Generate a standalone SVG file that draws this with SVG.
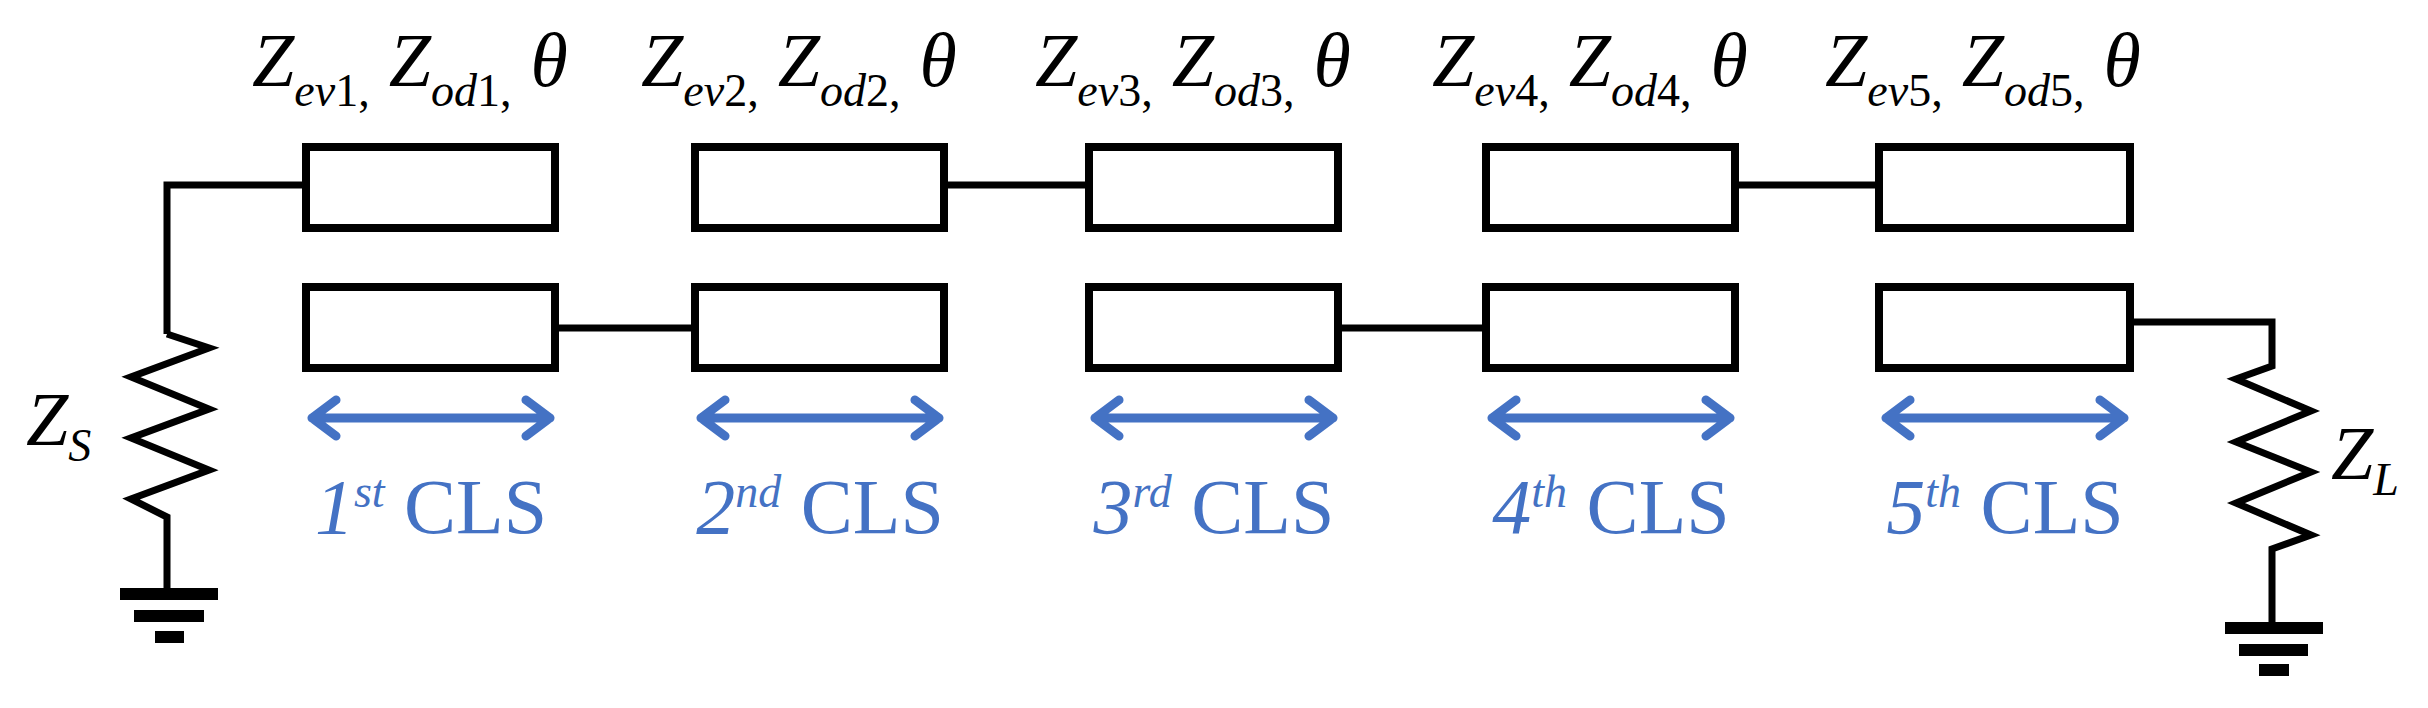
<svg xmlns="http://www.w3.org/2000/svg" width="2428" height="708" viewBox="0 0 2428 708">
<style>
.box{fill:#fff;stroke:#000;stroke-width:8}
.w{fill:none;stroke:#000;stroke-width:7;stroke-linejoin:miter}
.gnd{stroke:#000;stroke-width:12}
.arr{fill:none;stroke:#4472C4;stroke-width:9;stroke-linecap:round;stroke-linejoin:round}
.lab{font-family:"Liberation Serif",serif;font-size:76px;font-style:italic;fill:#000}
.sub{font-size:46px}
.up{font-style:normal}
.cls{font-family:"Liberation Serif",serif;font-size:78px;fill:#4472C4;text-anchor:middle}
.it{font-style:italic}
.sup{font-size:46px;font-style:italic}
</style>
<g id="connectors">
<polyline class="w" points="306,185 167,185 167,334"/>
<polyline class="w" points="167,334 209,348 131,377 209,409 131,438 209,470 131,499 167,517 167,594"/>
<line class="w" x1="945" y1="185" x2="1089" y2="185"/>
<line class="w" x1="1738" y1="185" x2="1880" y2="185"/>
<line class="w" x1="555" y1="328" x2="696" y2="328"/>
<line class="w" x1="1340" y1="328" x2="1486" y2="328"/>
<polyline class="w" points="2130,322 2272,322 2272,366 2236,379 2311,411 2236,442 2311,472 2236,503 2311,535 2272,549 2272,628"/>
</g>
<g id="gnd-s"><line class="gnd" x1="120" y1="594" x2="218" y2="594"/><line class="gnd" x1="134" y1="616" x2="204" y2="616"/><line class="gnd" x1="155" y1="637" x2="184" y2="637"/></g>
<g id="gnd-l"><line class="gnd" x1="2225" y1="628" x2="2323" y2="628"/><line class="gnd" x1="2239" y1="650" x2="2308" y2="650"/><line class="gnd" x1="2259" y1="670" x2="2289" y2="670"/></g>
<g id="zs"><text class="lab" x="26" y="445">Z<tspan class="sub" dy="16">S</tspan></text></g>
<g id="zl"><text class="lab" x="2331" y="479">Z<tspan class="sub" dy="16">L</tspan></text></g>
<g id="cls1"><rect class="box" x="306" y="147" width="249" height="81"/><rect class="box" x="306" y="287" width="249" height="81"/>
<text class="lab" x="252" y="86">Z<tspan class="sub" dy="20">ev<tspan class="up">1,</tspan></tspan><tspan dy="-20"> Z</tspan><tspan class="sub" dy="20">od<tspan class="up">1,</tspan></tspan><tspan dy="-20"> θ</tspan></text>
<path class="arr" d="M312,418H550M336,400L312,418L336,436M526,400L550,418L526,436"/>
<text class="cls" x="431" y="533"><tspan class="it">1</tspan><tspan class="sup" dy="-26">st</tspan><tspan dy="26"> CLS</tspan></text></g>
<g id="cls2"><rect class="box" x="695" y="147" width="249" height="81"/><rect class="box" x="695" y="287" width="249" height="81"/>
<text class="lab" x="641" y="86">Z<tspan class="sub" dy="20">ev<tspan class="up">2,</tspan></tspan><tspan dy="-20"> Z</tspan><tspan class="sub" dy="20">od<tspan class="up">2,</tspan></tspan><tspan dy="-20"> θ</tspan></text>
<path class="arr" d="M701,418H939M725,400L701,418L725,436M915,400L939,418L915,436"/>
<text class="cls" x="820" y="533"><tspan class="it">2</tspan><tspan class="sup" dy="-26">nd</tspan><tspan dy="26"> CLS</tspan></text></g>
<g id="cls3"><rect class="box" x="1089" y="147" width="249" height="81"/><rect class="box" x="1089" y="287" width="249" height="81"/>
<text class="lab" x="1035" y="86">Z<tspan class="sub" dy="20">ev<tspan class="up">3,</tspan></tspan><tspan dy="-20"> Z</tspan><tspan class="sub" dy="20">od<tspan class="up">3,</tspan></tspan><tspan dy="-20"> θ</tspan></text>
<path class="arr" d="M1095,418H1333M1119,400L1095,418L1119,436M1309,400L1333,418L1309,436"/>
<text class="cls" x="1214" y="533"><tspan class="it">3</tspan><tspan class="sup" dy="-26">rd</tspan><tspan dy="26"> CLS</tspan></text></g>
<g id="cls4"><rect class="box" x="1486" y="147" width="249" height="81"/><rect class="box" x="1486" y="287" width="249" height="81"/>
<text class="lab" x="1432" y="86">Z<tspan class="sub" dy="20">ev<tspan class="up">4,</tspan></tspan><tspan dy="-20"> Z</tspan><tspan class="sub" dy="20">od<tspan class="up">4,</tspan></tspan><tspan dy="-20"> θ</tspan></text>
<path class="arr" d="M1492,418H1730M1516,400L1492,418L1516,436M1706,400L1730,418L1706,436"/>
<text class="cls" x="1611" y="533"><tspan class="it">4</tspan><tspan class="sup" dy="-26">th</tspan><tspan dy="26"> CLS</tspan></text></g>
<g id="cls5"><rect class="box" x="1879" y="147" width="251" height="81"/><rect class="box" x="1879" y="287" width="251" height="81"/>
<text class="lab" x="1825" y="86">Z<tspan class="sub" dy="20">ev<tspan class="up">5,</tspan></tspan><tspan dy="-20"> Z</tspan><tspan class="sub" dy="20">od<tspan class="up">5,</tspan></tspan><tspan dy="-20"> θ</tspan></text>
<path class="arr" d="M1886,418H2124M1910,400L1886,418L1910,436M2100,400L2124,418L2100,436"/>
<text class="cls" x="2005" y="533"><tspan class="it">5</tspan><tspan class="sup" dy="-26">th</tspan><tspan dy="26"> CLS</tspan></text></g>
</svg>
